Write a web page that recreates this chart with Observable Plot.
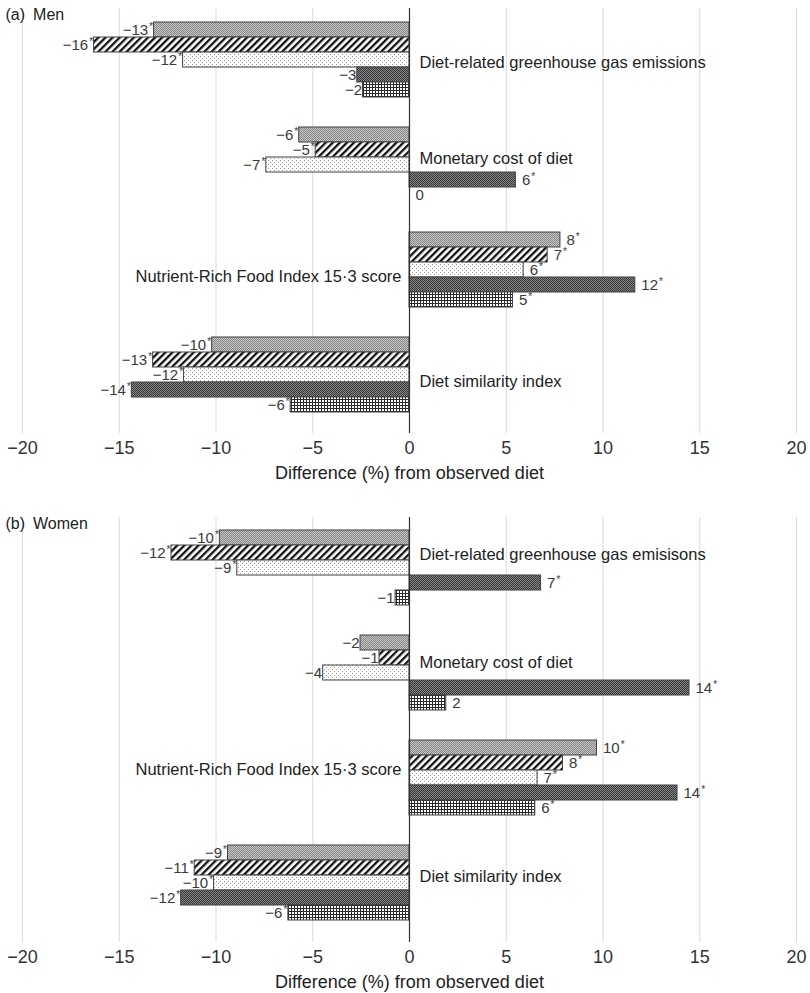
<!DOCTYPE html>
<html><head><meta charset="utf-8">
<script src="https://cdn.jsdelivr.net/npm/d3@7"></script>
<script src="https://cdn.jsdelivr.net/npm/@observablehq/plot@0.6"></script>
<style>
body{margin:0;background:#fff;font-family:"Liberation Sans",Arial,sans-serif}
#wrap{position:relative;width:810px;height:993px;overflow:hidden}
.panel{position:absolute;left:0}
</style></head><body>
<svg width="0" height="0" style="position:absolute">
<defs>
<pattern id="p1" width="2" height="2" patternUnits="userSpaceOnUse">
<rect width="2" height="2" fill="#c8c8c8"/><rect width="1" height="1" fill="#858585"/><rect x="1" y="1" width="1" height="1" fill="#858585"/>
</pattern>
<pattern id="p2" width="5" height="5" patternUnits="userSpaceOnUse" patternTransform="rotate(45)">
<rect width="5" height="5" fill="#fff"/><rect width="2.3" height="5" fill="#111"/>
</pattern>
<pattern id="p3" width="4" height="4" patternUnits="userSpaceOnUse">
<rect width="4" height="4" fill="#fff"/><rect width="1" height="1" fill="#9a9a9a"/><rect x="2" y="2" width="1" height="1" fill="#9a9a9a"/>
</pattern>
<pattern id="p4" width="2" height="2" patternUnits="userSpaceOnUse">
<rect width="2" height="2" fill="#8a8a8a"/><rect width="1" height="1" fill="#333"/><rect x="1" y="1" width="1" height="1" fill="#333"/>
</pattern>
<pattern id="p5" width="3" height="3" patternUnits="userSpaceOnUse">
<rect width="3" height="3" fill="#fff"/><rect width="3" height="1" fill="#2a2a2a"/><rect width="1" height="3" fill="#2a2a2a"/>
</pattern>
</defs></svg>
<div id="wrap"><div id="a" class="panel" style="top:0"></div><div id="b" class="panel" style="top:509px"></div></div>
<script>
// ---- data ----
const series = ["S1", "S2", "S3", "S4", "S5"];
const seriesPatterns = ["url(#p1)", "url(#p2)", "url(#p3)", "url(#p4)", "url(#p5)"];
const xTicks = [-20, -15, -10, -5, 0, 5, 10, 15, 20];
const axisTitle = "Difference (%) from observed diet";

const categoriesMen = ["Diet-related greenhouse gas emissions", "Monetary cost of diet", "Nutrient-Rich Food Index 15·3 score", "Diet similarity index"];
const menGHG = [-13.2, -16.3, -11.7, -2.7, -2.4];
const menCost = [-5.7, -4.85, -7.4, 5.5, 0];
const menNRF = [7.8, 7.14, 5.9, 11.67, 5.35];
const menDSI = [-10.2, -13.25, -11.65, -14.35, -6.14];
const menLabels = [[-13, -16, -12, -3, -2], [-6, -5, -7, 6, 0], [8, 7, 6, 12, 5], [-10, -13, -12, -14, -6]];
const menSig = [[1, 1, 1, 0, 0], [1, 1, 1, 1, 0], [1, 1, 1, 1, 1], [1, 1, 1, 1, 1]];

const categoriesWomen = ["Diet-related greenhouse gas emisisons", "Monetary cost of diet", "Nutrient-Rich Food Index 15·3 score", "Diet similarity index"];
const womenGHG = [-9.8, -12.3, -8.9, 6.8, -0.72];
const womenCost = [-2.53, -1.55, -4.46, 14.47, 1.9];
const womenNRF = [9.69, 7.93, 6.62, 13.85, 6.5];
const womenDSI = [-9.38, -11.1, -10.1, -11.8, -6.26];
const womenLabels = [[-10, -12, -9, 7, -1], [-2, -1, -4, 14, 2], [10, 8, 7, 14, 6], [-9, -11, -10, -12, -6]];
const womenSig = [[1, 1, 1, 1, 0], [0, 0, 0, 1, 0], [1, 1, 1, 1, 1], [1, 1, 1, 1, 1]];

const fmt = v => v < 0 ? "\u2212" + Math.abs(v) : String(v);
const FONT = '"Liberation Sans", Arial, sans-serif';

function makePanel(title, cats, values, labels, sig, layout) {
  const rows = [];
  cats.forEach((c, g) => series.forEach((s, i) => rows.push({
    g, s, cat: c, key: g + "|" + s, value: values[g][i], label: labels[g][i], sig: sig[g][i]
  })));
  const yDomain = [];
  cats.forEach((c, g) => {
    series.forEach(s => yDomain.push(g + "|" + s));
    if (g < cats.length - 1) { yDomain.push("gap" + g + "a"); yDomain.push("gap" + g + "b"); }
  });
  const catRows = cats.map((c, g) => {
    const neg = values[g].filter(v => v < 0).length;
    return {cat: c, key: g + "|" + series[2], side: neg >= 3 ? "right" : "left", g};
  });
  const bars = series.map((s, i) => Plot.barX(rows.filter(d => d.s === s), {
    x: "value", y: "key", fill: seriesPatterns[i], stroke: "#404040", strokeWidth: 1
  }));
  const catMarks = catRows.map(d => Plot.text([d], {
    x: 0, y: "key", text: "cat",
    textAnchor: d.side === "right" ? "start" : "end", dx: d.side === "right" ? 10 : -8,
    dy: layout.catDy[d.g], fontSize: 16.5, fill: "#222"
  }));
  const chart = Plot.plot({
    width: 810, height: layout.height, marginLeft: 22, marginRight: 14, marginTop: 8, marginBottom: layout.marginBottom,
    style: {fontFamily: FONT, fontSize: "18px", color: "#333", background: "#fff"},
    x: {domain: [-20, 20], ticks: xTicks, tickFormat: fmt, tickSize: 0, tickPadding: 8, label: null},
    y: {domain: yDomain, paddingInner: 0, paddingOuter: layout.padOuter, align: layout.align, axis: null},
    marks: [
      Plot.ruleX(xTicks.filter(t => t !== 0), {stroke: "#d9d9d9", strokeWidth: 1}),
      ...bars,
      Plot.ruleX([0], {stroke: "#333", strokeWidth: 1.2}),
      Plot.text(rows.filter(d => d.value < 0), {x: "value", y: "key", text: d => fmt(d.label) + (d.sig ? "*" : ""), textAnchor: "end", dx: -1, fontSize: 15, fill: "#3a3a3a"}),
      Plot.text(rows.filter(d => d.value >= 0), {x: "value", y: "key", text: d => fmt(d.label) + (d.sig ? "*" : ""), textAnchor: "start", dx: 6, fontSize: 15, fill: "#3a3a3a"}),
      ...catMarks,
      Plot.text([title], {frameAnchor: "top-left", dx: -17, textAnchor: "start", fontSize: 16, fill: "#222"}),
      Plot.text([axisTitle], {frameAnchor: "bottom", dy: 45, fontSize: 18, fill: "#222"})
    ]
  });
  chart.querySelectorAll("text").forEach(t => {
    const s = t.textContent;
    if (s.length > 1 && s.endsWith("*") && t.children.length === 0) {
      t.textContent = s.slice(0, -1);
      const ts = document.createElementNS("http://www.w3.org/2000/svg", "tspan");
      ts.setAttribute("font-size", "10");
      ts.setAttribute("dx", "1");
      ts.setAttribute("dy", "-5");
      ts.textContent = "*";
      t.appendChild(ts);
    }
  });
  return chart;
}

const menValues = [menGHG, menCost, menNRF, menDSI];
const womenValues = [womenGHG, womenCost, womenNRF, womenDSI];
document.getElementById("a").appendChild(makePanel("(a)\u2002Men", categoriesMen, menValues, menLabels, menSig,
  {height: 500, marginBottom: 67, padOuter: 1.07, align: 0.41, catDy: [3, -6, 7, 7]}));
document.getElementById("b").appendChild(makePanel("(b)\u2002Women", categoriesWomen, womenValues, womenLabels, womenSig,
  {height: 484, marginBottom: 51, padOuter: 0.89, align: 0.37, catDy: [-13, -10, -8, -6]}));
</script>
</body></html>
